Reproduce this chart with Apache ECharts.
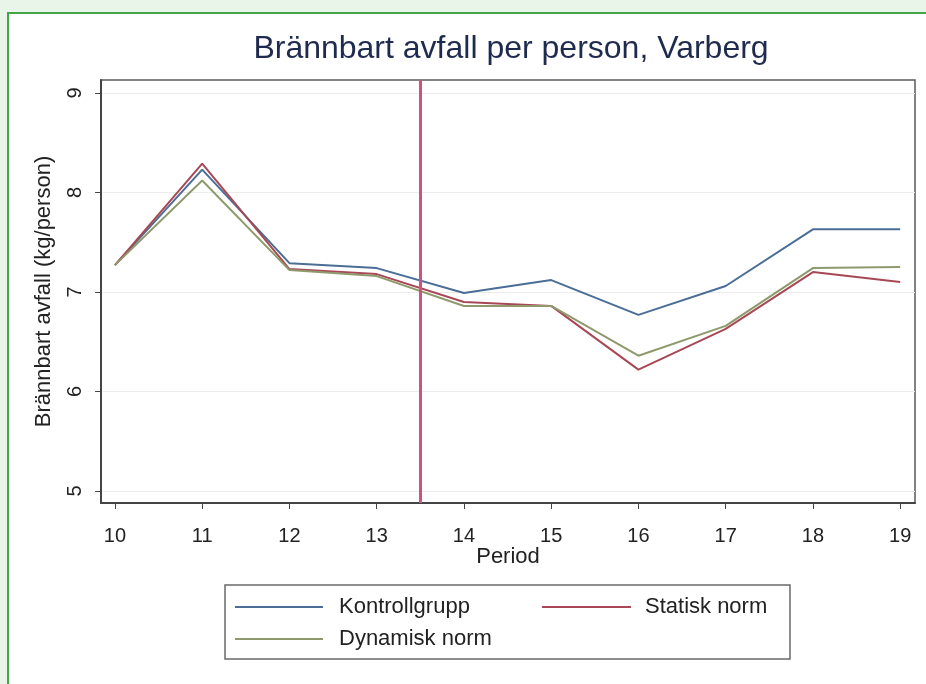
<!DOCTYPE html>
<html>
<head>
<meta charset="utf-8">
<script src="https://cdn.jsdelivr.net/npm/echarts@6/dist/echarts.min.js"></script>
<style>
  html, body { margin: 0; padding: 0; background: #eaf5ea; }
  #frame {
    position: absolute; left: 7px; top: 12px; width: 930px; height: 680px;
    background: #ffffff; border-top: 2.5px solid #43a543; border-left: 2.5px solid #43a543;
  }
  #main { position: absolute; left: 0; top: 0; width: 926px; height: 684px; }
</style>
</head>
<body>
<div id="frame"></div>
<div id="main"></div>
<script>
// Period 10..19
var periods = [10, 11, 12, 13, 14, 15, 16, 17, 18, 19];
var kontrollgrupp = [7.27, 8.23, 7.29, 7.24, 6.99, 7.12, 6.77, 7.06, 7.63, 7.63];
var statiskNorm   = [7.27, 8.29, 7.23, 7.18, 6.90, 6.86, 6.22, 6.63, 7.20, 7.10];
var dynamiskNorm  = [7.27, 8.12, 7.22, 7.16, 6.86, 6.86, 6.36, 6.66, 7.24, 7.25];
var yTicks = [5, 6, 7, 8, 9];
var cutoff = 13.5;

function pairs(vals) {
    return periods.map(function (p, i) { return [p, vals[i]]; });
}

var font = 'Liberation Sans, Arial, sans-serif';
var chart = echarts.init(document.getElementById('main'));

var option = {
    backgroundColor: 'transparent',
    animation: false,
    title: {
        text: 'Brännbart avfall per person, Varberg',
        left: 506, top: 28, textAlign: 'center',
        textStyle: { color: '#1f2b4e', fontSize: 32, fontWeight: 'normal', fontFamily: font }
    },
    grid: {
        left: 101, top: 80, right: 11, bottom: 181,
        show: true, borderColor: '#5a5a5a', borderWidth: 1.5, backgroundColor: '#ffffff'
    },
    xAxis: {
        type: 'value', min: 9.84, max: 19.17,
        name: 'Period', nameLocation: 'middle', nameGap: 43, nameMoveOverlap: false,
        nameTextStyle: { color: '#222', fontSize: 22, fontFamily: font },
        axisLine: { show: true, lineStyle: { color: '#444', width: 2 } },
        axisTick: { show: true, length: 6, customValues: periods, lineStyle: { color: '#444' } },
        axisLabel: { customValues: periods, color: '#222', fontSize: 20, fontFamily: font, margin: 23 },
        splitLine: { show: false }
    },
    yAxis: {
        type: 'value', min: 4.88, max: 9.13,
        name: 'Brännbart avfall (kg/person)', nameLocation: 'middle', nameGap: 46,
        nameTextStyle: { color: '#222', fontSize: 22, fontFamily: font },
        axisLine: { show: true, lineStyle: { color: '#444', width: 2 } },
        axisTick: { show: true, length: 6, customValues: yTicks, lineStyle: { color: '#444' } },
        axisLabel: { customValues: yTicks, rotate: 90, color: '#222', fontSize: 20, fontFamily: font, margin: 16 },
        splitLine: { show: true, lineStyle: { color: '#ececec', width: 1 } }
    },
    legend: [
        {
            data: ['Kontrollgrupp', 'Dynamisk norm'],
            orient: 'vertical', left: 229, top: 591, itemGap: 10,
            itemWidth: 88, itemHeight: 2,
            formatter: '{t|{name}}',
            textStyle: { color: '#222', fontSize: 22, fontFamily: font,
                rich: { t: { padding: [0, 0, 0, 11], fontSize: 22, fontFamily: font, color: '#222' } } }
        },
        {
            data: ['Statisk norm'],
            orient: 'vertical', left: 536, top: 591,
            itemWidth: 89, itemHeight: 2,
            formatter: '{t|{name}}',
            textStyle: { color: '#222', fontSize: 22, fontFamily: font,
                rich: { t: { padding: [0, 0, 0, 9], fontSize: 22, fontFamily: font, color: '#222' } } }
        }
    ],
    graphic: [{
        type: 'rect', z: -1,
        shape: { x: 225, y: 585, width: 565, height: 74 },
        style: { fill: '#ffffff', stroke: '#6a6a6a', lineWidth: 1.5 }
    }],
    series: [
        {
            name: 'Kontrollgrupp', type: 'line', data: pairs(kontrollgrupp),
            symbol: 'none', lineStyle: { color: '#4a6e96', width: 2 }, itemStyle: { color: '#4a6e96' },
            markLine: {
                silent: true, symbol: 'none', label: { show: false },
                lineStyle: { color: '#d4507c', width: 3, type: 'solid' },
                data: [{ xAxis: cutoff }]
            }
        },
        {
            name: 'Statisk norm', type: 'line', data: pairs(statiskNorm),
            symbol: 'none', lineStyle: { color: '#a84856', width: 2 }, itemStyle: { color: '#a84856' }
        },
        {
            name: 'Dynamisk norm', type: 'line', data: pairs(dynamiskNorm),
            symbol: 'none', lineStyle: { color: '#8f9a6c', width: 2 }, itemStyle: { color: '#8f9a6c' }
        }
    ]
};

chart.setOption(option);
</script>
</body>
</html>
